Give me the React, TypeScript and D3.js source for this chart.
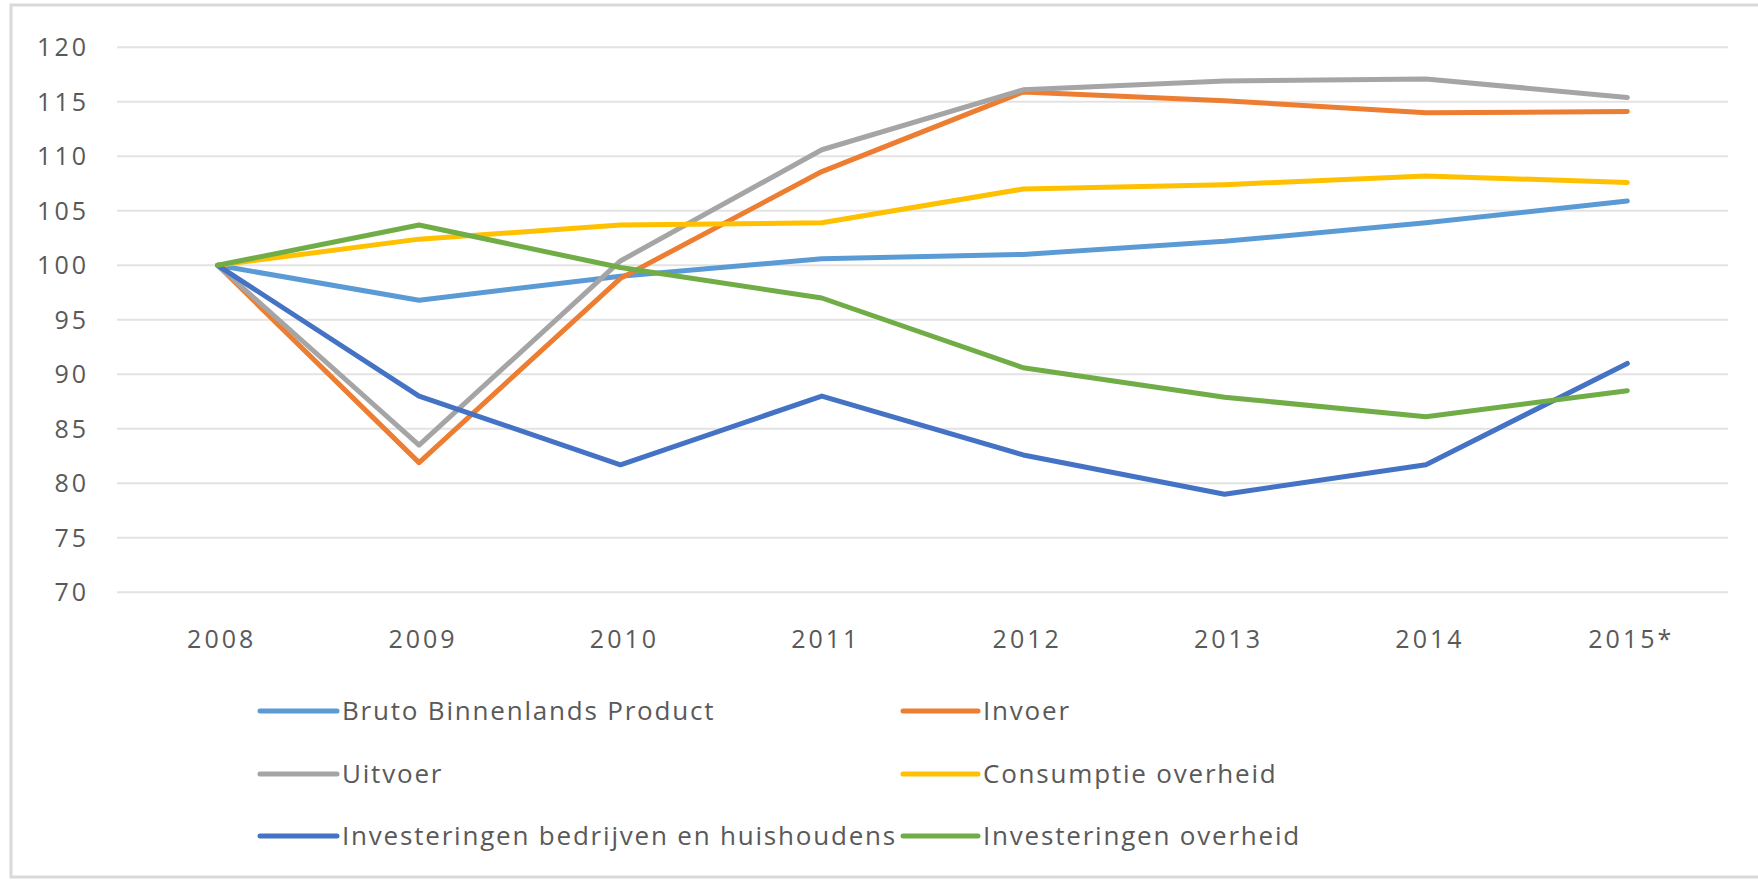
import React, { useRef, useEffect } from 'react';
import * as d3 from 'd3';

const years = ['2008', '2009', '2010', '2011', '2012', '2013', '2014', '2015*'];
const yTicks = [70, 75, 80, 85, 90, 95, 100, 105, 110, 115, 120];

const bbp = [100, 96.8, 99.0, 100.6, 101.0, 102.2, 103.9, 105.9];
const invoer = [100, 81.9, 98.8, 108.6, 115.9, 115.1, 114.0, 114.1];
const uitvoer = [100, 83.5, 100.4, 110.6, 116.1, 116.9, 117.1, 115.4];
const consumptie = [100, 102.4, 103.7, 103.9, 107.0, 107.4, 108.2, 107.6];
const invBedrijven = [100, 88.0, 81.7, 88.0, 82.6, 79.0, 81.7, 91.0];
const invOverheid = [100, 103.7, 99.8, 97.0, 90.6, 87.9, 86.1, 88.5];

const seriesNames = [
  'Bruto Binnenlands Product',
  'Invoer',
  'Uitvoer',
  'Consumptie overheid',
  'Investeringen bedrijven en huishoudens',
  'Investeringen overheid',
];
const seriesValues = [bbp, invoer, uitvoer, consumptie, invBedrijven, invOverheid];
const colors = ['#5B9BD5', '#ED7D31', '#A5A5A5', '#FFC000', '#4472C4', '#70AD47'];

const Chart = () => {
  const ref = useRef<SVGSVGElement>(null);

  useEffect(() => {
    const width = 1758;
    const height = 880;
    const left = 117;
    const right = 1728;
    const top = 47.3;
    const bottom = 592.3;
    const font = "'Open Sans', Lato, sans-serif";
    const textColor = '#595959';
    const tickLs = 3;

    const svg = d3.select(ref.current);
    svg.selectAll('*').remove();
    svg.attr('width', width).attr('height', height);

    svg.append('rect')
      .attr('x', 0).attr('y', 0).attr('width', width).attr('height', height)
      .attr('fill', '#fff');

    svg.append('rect')
      .attr('x', 11).attr('y', 5).attr('width', width).attr('height', 872)
      .attr('fill', 'none').attr('stroke', '#d9d9d9').attr('stroke-width', 3);

    const x = d3.scaleBand<string>().domain(years).range([left, right]).padding(0);
    const cx = (d: string) => (x(d) as number) + x.bandwidth() / 2;
    const y = d3.scaleLinear().domain([70, 120]).range([bottom, top]);

    // grid
    svg.append('g')
      .selectAll('line')
      .data(yTicks)
      .join('line')
      .attr('x1', left).attr('x2', right)
      .attr('y1', d => y(d)).attr('y2', d => y(d))
      .attr('stroke', '#e3e3e3').attr('stroke-width', 2);

    // y labels
    svg.append('g')
      .selectAll('text')
      .data(yTicks)
      .join('text')
      .attr('x', 86 + tickLs).attr('y', d => y(d))
      .attr('dy', '0.35em')
      .attr('text-anchor', 'end')
      .attr('font-family', font).attr('font-size', 25)
      .attr('letter-spacing', tickLs)
      .attr('fill', textColor)
      .text(d => d);

    // x labels
    svg.append('g')
      .selectAll('text')
      .data(years)
      .join('text')
      .attr('x', d => cx(d) + 4).attr('y', 639)
      .attr('dy', '0.35em')
      .attr('text-anchor', 'middle')
      .attr('font-family', font).attr('font-size', 25)
      .attr('letter-spacing', tickLs)
      .attr('fill', textColor)
      .text(d => d);

    // lines
    const line = d3.line<number>()
      .x((_, i) => cx(years[i]))
      .y(d => y(d));

    svg.append('g')
      .selectAll('path')
      .data(seriesValues)
      .join('path')
      .attr('d', d => line(d))
      .attr('fill', 'none')
      .attr('stroke', (_, i) => colors[i])
      .attr('stroke-width', 5)
      .attr('stroke-linejoin', 'round')
      .attr('stroke-linecap', 'round');

    // legend
    const colX = [260, 903];
    const rowY = [711, 774, 836];
    const swatchW = [77, 75];
    const lg = svg.append('g')
      .selectAll('g')
      .data(seriesNames)
      .join('g')
      .attr('transform', (_, i) => `translate(${colX[i % 2]},${rowY[Math.floor(i / 2)]})`);

    lg.append('line')
      .attr('x1', 0).attr('x2', (_, i) => swatchW[i % 2])
      .attr('y1', 0).attr('y2', 0)
      .attr('stroke', (_, i) => colors[i])
      .attr('stroke-width', 5)
      .attr('stroke-linecap', 'round');

    lg.append('text')
      .attr('x', (_, i) => swatchW[i % 2] + 5)
      .attr('y', 0)
      .attr('dy', '0.35em')
      .attr('font-family', font).attr('font-size', 26)
      .attr('letter-spacing', 1.8)
      .attr('fill', textColor)
      .text(d => d);
  }, []);

  return <svg ref={ref} style={{ position: 'absolute', left: 0, top: 0, display: 'block' }}></svg>;
};

export default function App() {
  return <Chart />;
}
